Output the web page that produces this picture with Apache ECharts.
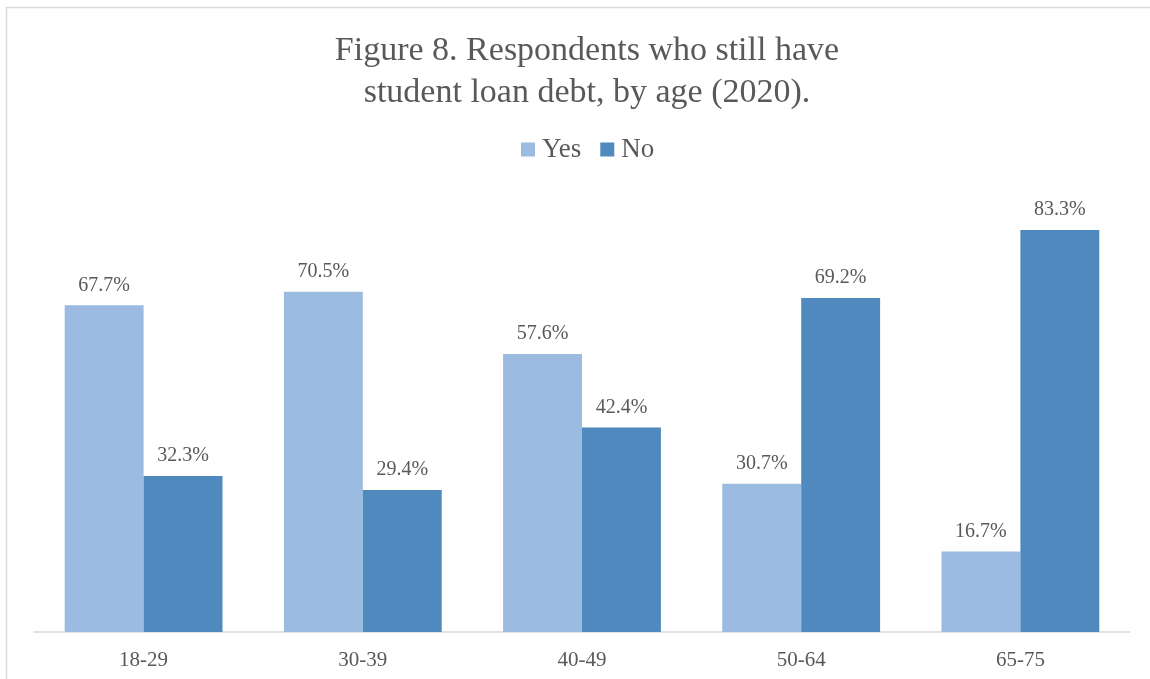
<!DOCTYPE html>
<html>
<head>
<meta charset="utf-8">
<script src="https://cdn.jsdelivr.net/npm/echarts@6/dist/echarts.min.js"></script>
<style>html,body{margin:0;padding:0;background:#fff;}#c{width:1150px;height:679px;}</style>
</head>
<body>
<div id="c"></div>
<script>
var categories = ['18-29', '30-39', '40-49', '50-64', '65-75'];
var yesValues = [67.7, 70.5, 57.6, 30.7, 16.7];
var noValues = [32.3, 29.4, 42.4, 69.2, 83.3];
var seriesNames = ['Yes', 'No'];

var FONT = '"Liberation Serif", "Times New Roman", serif';
var TXT = '#595959';
var chart = echarts.init(document.getElementById('c'));
var labelCfg = {
  show: true, position: 'top', distance: 10,
  color: TXT, fontFamily: FONT, fontSize: 20,
  formatter: function (p) { return p.value.toFixed(1) + '%'; }
};
chart.setOption({
  animation: false,
  backgroundColor: '#fff',
  graphic: [{
    type: 'rect', silent: true,
    shape: { x: 6.5, y: 7.5, width: 1160, height: 700 },
    style: { fill: 'none', stroke: '#d9d9d9', lineWidth: 1.5 }
  }],
  title: {
    text: 'Figure 8. Respondents who still have\nstudent loan debt, by age (2020).',
    left: 582, textAlign: 'center', top: 25,
    textStyle: { fontFamily: FONT, fontSize: 34, fontWeight: 'normal', color: TXT, lineHeight: 42 }
  },
  legend: {
    data: seriesNames, left: 516, top: 131,
    itemWidth: 14, itemHeight: 14, itemGap: 19, icon: 'rect',
    textStyle: { fontFamily: FONT, fontSize: 27, color: TXT, padding: [0, 0, 0, 2] }
  },
  grid: { left: 34, right: 20, top: 149.4, bottom: 47, containLabel: false },
  xAxis: {
    type: 'category', data: categories,
    axisLine: { lineStyle: { color: '#d9d9d9', width: 1.5 } },
    axisTick: { show: false },
    axisLabel: { color: TXT, fontFamily: FONT, fontSize: 21, margin: 18 }
  },
  yAxis: {
    type: 'value', min: 0, max: 100, show: false,
    splitLine: { show: false }
  },
  series: [
    { name: seriesNames[0], type: 'bar', data: yesValues, barGap: '0%', barCategoryGap: '28%',
      itemStyle: { color: '#9BBBE0' }, label: labelCfg },
    { name: seriesNames[1], type: 'bar', data: noValues, barGap: '0%', barCategoryGap: '28%',
      itemStyle: { color: '#4F89BD' }, label: labelCfg }
  ]
});
</script>
</body>
</html>
